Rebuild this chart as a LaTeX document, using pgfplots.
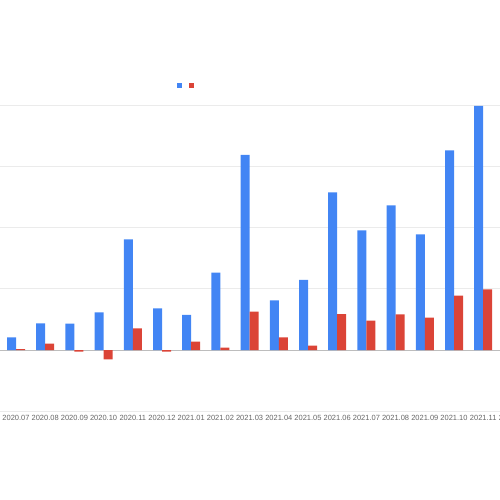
\documentclass[border=0pt]{standalone}
\usepackage{pgfplots}
\pgfplotsset{compat=1.18}
\usepackage{fontspec}
\setmainfont{Liberation Sans}
\definecolor{gblue}{HTML}{4285F4}
\definecolor{gred}{HTML}{DB4437}
\definecolor{lbl}{HTML}{666666}
\definecolor{gridc}{HTML}{EBEBEB}
\definecolor{basec}{HTML}{BDBDBD}
\begin{document}
\begin{tikzpicture}
\useasboundingbox (0,0) rectangle (500pt,500pt);
\clip (0,0) rectangle (500pt,500pt);
\begin{axis}[
  at={(0pt,500pt)}, anchor=north west,
  scale only axis, width=500pt, height=411pt,
  xmin=-0.548, xmax=16.575,
  ymin=-9.967, ymax=57.19,
  ybar=0pt, bar width=9pt,
  axis x line*=bottom, axis y line*=left,
  x axis line style={-, draw=gridc, line width=0.8pt},
  y axis line style={-, draw=none},
  xtick={0,...,16},
  xticklabels={2020.07,2020.08,2020.09,2020.10,2020.11,2020.12,2021.01,2021.02,2021.03,2021.04,2021.05,2021.06,2021.07,2021.08,2021.09,2021.10,2021.11},
  xticklabel style={font=\fontsize{7.5}{8}\selectfont, text=lbl, yshift=-0.5pt},
  major tick length=0pt,
  ytick={10,20,30,40}, yticklabels={},
  ymajorgrids=true, grid style={draw=gridc, line width=0.8pt},
  extra y ticks={0}, extra y tick labels={},
  extra y tick style={grid style={draw=basec, line width=0.9pt}},
  clip=false,
  legend columns=2,
  legend style={at={(0.372,0.792)}, anchor=center, draw=none, fill=none,
    nodes={inner sep=0pt, outer sep=0pt},
    /tikz/every even column/.append style={column sep=6.5pt}},
]
\addplot[fill=gblue, draw=none, legend image code/.code={\fill[gblue] (0pt,-2.25pt) rectangle (4.5pt,2.25pt);}] coordinates {
(0,2.07) (1,4.36) (2,4.3) (3,6.15) (4,18.08) (5,6.8) (6,5.72) (7,12.63) (8,31.9)
(9,8.12) (10,11.44) (11,25.76) (12,19.55) (13,23.64) (14,18.9) (15,32.6) (16,39.9)};
\addlegendentry{}
\addplot[fill=gred, draw=none, legend image code/.code={\fill[gred] (0pt,-2.25pt) rectangle (4.5pt,2.25pt);}] coordinates {
(0,0.15) (1,1.04) (2,-0.27) (3,-1.53) (4,3.54) (5,-0.28) (6,1.36) (7,0.38) (8,6.26)
(9,2.07) (10,0.71) (11,5.88) (12,4.79) (13,5.83) (14,5.28) (15,8.88) (16,9.91)};
\addlegendentry{}
\node[anchor=north, font=\fontsize{7.5}{8}\selectfont, text=lbl, yshift=-0.5pt, inner sep=3.33pt] at (axis cs:17,-9.967) {2021.12};
\end{axis}
\end{tikzpicture}
\end{document}
